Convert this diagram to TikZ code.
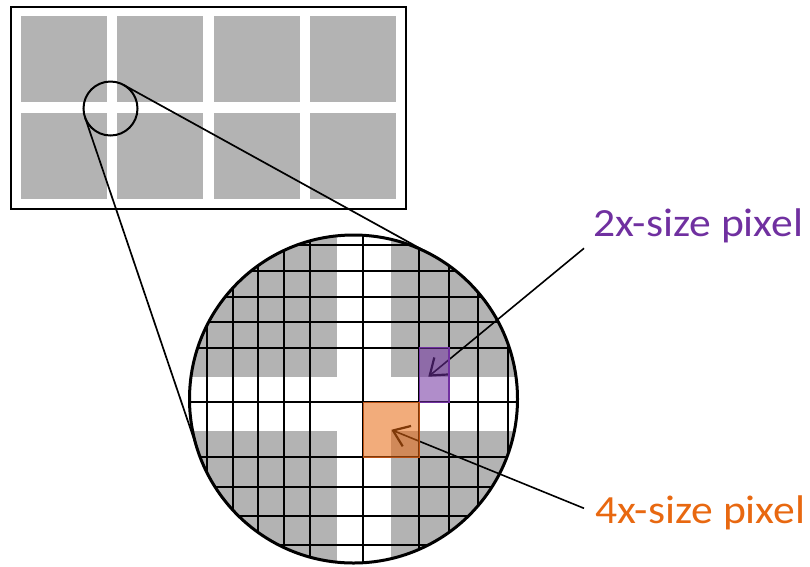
\documentclass[tikz,border=0pt]{standalone}
\usepackage{fontspec}
\setmainfont{Carlito}[FakeStretch=1.09]
\usetikzlibrary{calc,arrows.meta}
\definecolor{gfill}{RGB}{179,179,179}
\definecolor{ppl}{RGB}{112,48,160}
\definecolor{org}{RGB}{232,104,16}
\definecolor{orgline}{RGB}{185,80,20}
\begin{document}
\begin{tikzpicture}[x=1pt,y=-1pt,
  lens/.style={circle,draw,inner sep=0pt,outer sep=0pt},
  gridline/.style={line width=1.8pt},
  zoomline/.style={line width=1.7pt},
  arr/.style={line width=1.6pt,-{Straight Barb[length=15pt,width=22pt,line width=2.2pt]}},
  lbl/.style={anchor=base west,inner sep=0pt,font=\fontsize{40}{48}\selectfont},
  pixbox/.style={inner sep=0pt,outer sep=0pt,line width=1.3pt,fill opacity=0.55}]
\useasboundingbox (0,0) rectangle (810,566);
% top panel
\node[draw,line width=2pt,minimum width=395pt,minimum height=202pt,inner sep=0pt,outer sep=0pt] (panel) at (208.5,108) {};
\foreach \xx in {21,117,214,310}
  \foreach \yy in {16,113}
    \fill[gfill] (\xx,\yy) rectangle ++(86,86);
\node[lens,line width=2pt,minimum size=54pt] (small) at (110.5,108.5) {};
% magnified view
\begin{scope}
  \clip (353.5,399) circle[radius=164pt];
  \fill[gfill] (180,220) rectangle (530,580);
  \fill[white] (336.7,220) rectangle (390.7,580);
  \fill[white] (180,376.7) rectangle (530,430.7);
  \foreach \xx in {206.7,232.7,258.3,284.3,310.3,363.3,419.2,449,478.3,508}
    \draw[gridline] (\xx,220) -- (\xx,580);
  \foreach \yy in {245,271,296.7,322.3,347.7,402.3,457.3,486.7,516.2,545}
    \draw[gridline] (180,\yy) -- (530,\yy);
\end{scope}
\node[lens,line width=3pt,minimum size=328pt] (big) at (353.5,399) {};
% tangent lines
\coordinate (H) at ($(small.center)!-0.19708!(big.center)$);
\draw[zoomline] (tangent cs:node=small,point={(H)},solution=1) -- (tangent cs:node=big,point={(H)},solution=1);
\draw[zoomline] (tangent cs:node=small,point={(H)},solution=2) -- (tangent cs:node=big,point={(H)},solution=2);
% labels
\node[lbl,text=ppl] (plabel) at (593,236) {2x-size pixel};
\node[lbl,text=org] (olabel) at (595,523.3) {4x-size pixel};
\coordinate (pstart) at ($(plabel.base west)+(-9,12.3)$);
\coordinate (ostart) at ($(olabel.base west)+(-11,-15)$);
\coordinate (ptip) at (428.3,376.7);
\coordinate (ocenter) at (391.25,429.8);
\draw[arr] (pstart) -- (ptip);
\draw[arr] (ostart) -- (ocenter);
% pixel boxes
\node[pixbox,draw=ppl,fill=ppl,minimum width=29.8pt,minimum height=54.6pt] (pbox) at (434.1,375) {};
\node[pixbox,draw=orgline,fill=org,minimum width=55.9pt,minimum height=55pt] (obox) at (ocenter) {};
\end{tikzpicture}
\end{document}
